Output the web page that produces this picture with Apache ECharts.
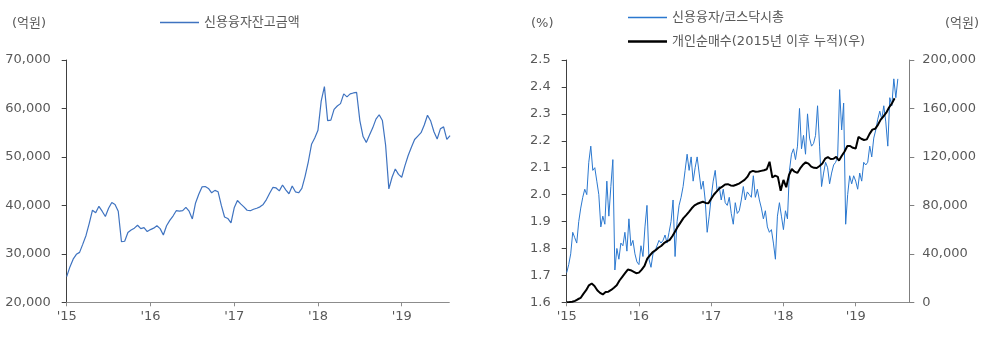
<!DOCTYPE html>
<html>
<head>
<meta charset="utf-8">
<script src="https://cdn.jsdelivr.net/npm/echarts@6/dist/echarts.min.js"></script>
<style>
  html, body { margin: 0; padding: 0; background: #fff; }
  #chart { width: 1000px; height: 337px; }
</style>
</head>
<body>
<div id="chart"></div>
<script>
// 신용융자잔고금액 (억원), biweekly from Jan 2015
const creditBalance = [
  25300,27300,28900,29900,30300,32000,33800,36300,39000,38500,
  39800,38800,37700,39400,40600,40200,38800,32500,32600,34400,
  34900,35300,35900,35200,35400,34600,35000,35300,35800,35200,
  33900,35800,36900,37800,38900,38800,38900,39600,38800,37200,
  40500,42300,43800,43900,43500,42600,43100,42800,40000,37600,
  37300,36400,39500,41000,40300,39700,39000,38900,39200,39400,
  39700,40200,41200,42500,43700,43600,43000,44200,43200,42400,
  44000,42800,42600,43500,46000,49000,52600,53900,55500,61500,
  64500,57500,57600,59800,60500,61000,63000,62400,63000,63200,
  63300,57500,54200,53000,54500,56000,57800,58700,57500,52400,
  43400,45800,47500,46400,45800,48200,50300,52000,53600,54300,
  55000,56600,58600,57400,55200,53700,55800,56200,53600,54400
];
const creditStep = 1 / 26;

// 신용융자/코스닥시총 (%), every ~10 days from Jan 2015
const creditRatio = [
  1.71,1.74,1.78,1.86,1.84,1.82,1.90,1.95,1.99,2.02,
  2.00,2.12,2.18,2.09,2.10,2.05,2.00,1.88,1.92,1.89,
  2.05,1.92,2.03,2.13,1.72,1.80,1.76,1.82,1.81,1.86,
  1.79,1.91,1.81,1.83,1.78,1.75,1.74,1.81,1.77,1.88,
  1.96,1.76,1.73,1.78,1.79,1.81,1.83,1.82,1.83,1.85,
  1.82,1.86,1.90,1.98,1.77,1.90,1.96,1.99,2.03,2.09,
  2.15,2.09,2.14,2.05,2.10,2.14,2.08,2.02,2.05,1.98,
  1.86,1.92,1.99,2.05,2.09,2.01,2.03,1.98,2.02,1.97,
  1.96,1.99,1.93,1.89,1.97,1.93,1.94,1.98,2.03,1.98,
  2.01,2.00,1.99,2.07,1.99,2.02,1.98,1.95,1.91,1.94,
  1.88,1.86,1.87,1.82,1.76,1.92,1.97,1.92,1.87,1.94,
  1.91,2.09,2.15,2.17,2.13,2.18,2.32,2.17,2.22,2.15,
  2.30,2.21,2.18,2.19,2.22,2.33,2.18,2.03,2.08,2.12,
  2.10,2.04,2.08,2.11,2.12,2.14,2.39,2.24,2.34,1.89,
  2.00,2.07,2.04,2.07,2.05,2.02,2.08,2.05,2.12,2.11,
  2.12,2.18,2.14,2.21,2.24,2.28,2.31,2.28,2.33,2.27,
  2.18,2.36,2.33,2.43,2.36,2.43
];
const ratioStep = 1 / 36;

// 개인순매수 누적 (억원), biweekly from Jan 2015
const retailCumulative = [
  0,200,500,1200,2500,3600,7000,10000,14000,15500,
  13500,10000,7800,6500,8500,8800,10200,12000,14000,18000,
  21000,24000,27000,26500,25300,24000,24500,27000,30000,36000,
  39000,41500,43000,45000,46500,48800,50300,51300,54500,58500,
  62500,66000,69500,72000,74700,77600,80000,81300,82200,83000,
  82000,81800,85500,89000,91500,94000,95500,97200,97500,96500,
  96200,97000,98000,99500,101000,103500,107500,108500,107800,108000,
  108500,109000,109800,116000,103000,104500,103500,92000,101000,95000,
  105100,110000,107800,106800,110500,113500,115500,114500,112000,111000,
  110800,112500,114500,118500,119800,118300,118500,120000,117000,121000,
  124500,129000,129000,127500,127000,136500,135000,134000,134500,139000,
  142500,143200,146500,150800,153500,156500,160800,164000,168400
];
const retailStep = 1 / 26;

const yearTicks = [2015, 2016, 2017, 2018, 2019];
const leftTicks = [20000, 70000, 10000];        // min, max, interval
const ratioTicks = [1.6, 2.5, 0.1];
const retailTicks = [0, 200000, 40000];

const FONT = '"DejaVu Sans", "Noto Sans CJK KR", sans-serif';
const GRAY = '#595959';

const toPairs = (arr, step) => arr.map((v, i) => [2015 + i * step, v]);
const yearLabel = v => "'" + String(Math.round(v)).slice(2);
const commas = v => Math.round(v).toLocaleString('en-US');

function xAxis(gridIndex, max) {
  return {
    type: 'value', gridIndex, min: 2015, max,
    axisLine: { lineStyle: { color: '#8c8c8c', width: 1 } },
    axisTick: { customValues: yearTicks, length: 4, lineStyle: { color: '#8c8c8c' } },
    axisLabel: { customValues: yearTicks, formatter: yearLabel, margin: 8,
      color: GRAY, fontSize: 13, fontFamily: FONT },
    splitLine: { show: false }
  };
}
function yAxis(gridIndex, ticks, position, lineColor, fmt, margin) {
  return {
    type: 'value', gridIndex, position,
    min: ticks[0], max: ticks[1], interval: ticks[2],
    axisLine: { show: true, lineStyle: { color: lineColor, width: 1 } },
    axisTick: { show: true, length: 5, lineStyle: { color: lineColor } },
    axisLabel: { formatter: fmt, margin, color: GRAY, fontSize: 13, fontFamily: FONT },
    splitLine: { show: false }
  };
}

const chart = echarts.init(document.getElementById('chart'), null, { renderer: 'canvas' });
chart.setOption({
  animation: false,
  backgroundColor: '#fff',
  grid: [
    { left: 66.7, top: 60, width: 382.6, height: 242.3 },
    { left: 566.7, top: 60, width: 342.6, height: 242.3 }
  ],
  xAxis: [xAxis(0, 2019.568), xAxis(1, 2019.742)],
  yAxis: [
    yAxis(0, leftTicks, 'left', '#404040', commas, 16),
    yAxis(1, ratioTicks, 'left', '#404040', v => v.toFixed(1), 16),
    yAxis(1, retailTicks, 'right', '#7f7f7f', commas, 13)
  ],
  legend: [
    { data: ['신용융자잔고금액'], left: 160, top: 16, padding: 0,
      icon: 'rect', itemWidth: 39, itemHeight: 1.3,
      textStyle: { color: GRAY, fontSize: 13, fontFamily: FONT } },
    { data: ['신용융자/코스닥시총'], left: 628, top: 11, padding: 0,
      icon: 'rect', itemWidth: 39, itemHeight: 1.3,
      textStyle: { color: GRAY, fontSize: 13, fontFamily: FONT } },
    { data: ['개인순매수(2015년 이후 누적)(우)'], left: 628, top: 35, padding: 0,
      icon: 'rect', itemWidth: 39, itemHeight: 2.5,
      textStyle: { color: GRAY, fontSize: 13, fontFamily: FONT } }
  ],
  graphic: [
    { type: 'text', left: 12, top: 17, style: { text: '(억원)', fill: GRAY, font: '13px ' + FONT } },
    { type: 'text', left: 531, top: 17, style: { text: '(%)', fill: GRAY, font: '13px ' + FONT } },
    { type: 'text', left: 945, top: 17, style: { text: '(억원)', fill: GRAY, font: '13px ' + FONT } }
  ],
  series: [
    { name: '신용융자잔고금액', type: 'line', xAxisIndex: 0, yAxisIndex: 0,
      data: toPairs(creditBalance, creditStep), showSymbol: false,
      lineStyle: { color: '#3f73c0', width: 1.2 }, itemStyle: { color: '#3f73c0' } },
    { name: '신용융자/코스닥시총', type: 'line', xAxisIndex: 1, yAxisIndex: 1,
      data: toPairs(creditRatio, ratioStep), showSymbol: false,
      lineStyle: { color: '#2b78cf', width: 1 }, itemStyle: { color: '#2b78cf' } },
    { name: '개인순매수(2015년 이후 누적)(우)', type: 'line', xAxisIndex: 1, yAxisIndex: 2,
      data: toPairs(retailCumulative, retailStep), showSymbol: false,
      lineStyle: { color: '#000', width: 2 }, itemStyle: { color: '#000' } }
  ]
});
</script>
</body>
</html>
